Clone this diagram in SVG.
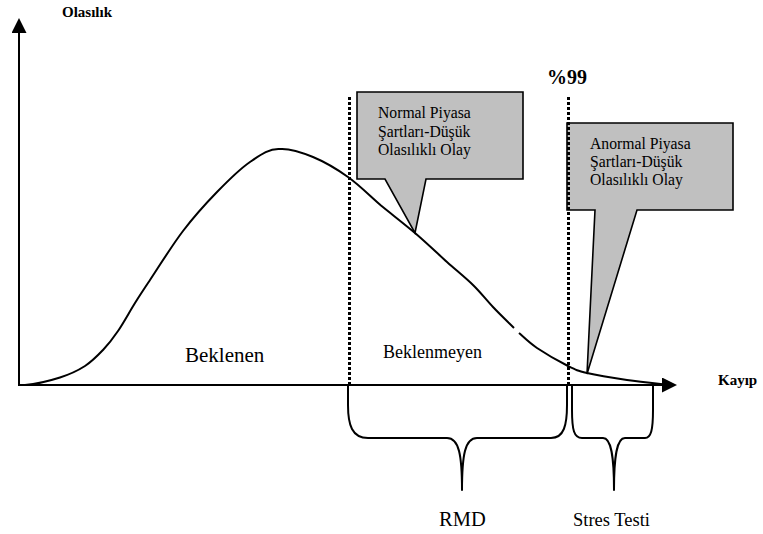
<svg xmlns="http://www.w3.org/2000/svg" width="763" height="534" viewBox="0 0 763 534">
  <style>
    .serif { font-family: "Liberation Serif", "Times New Roman", serif; fill: #000; }
    .bold { font-weight: bold; }
    .callout { fill: #c0c0c0; stroke: #000; stroke-width: 1.6; stroke-linejoin: miter; }
    .line { fill: none; stroke: #000; stroke-width: 2; }
    .limit { fill: none; stroke: #000; stroke-width: 3; stroke-dasharray: 3 2; }
    .brace { fill: none; stroke: #000; stroke-width: 2; stroke-linejoin: round; }
  </style>
  <defs>
    <marker id="arrow" markerUnits="userSpaceOnUse" markerWidth="15" markerHeight="15" refX="0" refY="7.5" orient="auto">
      <path d="M0,0 L15,7.5 L0,15 Z" fill="#000"/>
    </marker>
  </defs>
  <rect width="763" height="534" fill="#fff"/>

  <!-- call-out boxes -->
  <g id="callout-normal">
    <path class="callout" d="M357,92 H523 V179 H426 L415,233 L385,179 H357 Z"/>
    <text class="serif" font-size="15.7" x="378" y="118.3">Normal Piyasa</text>
    <text class="serif" font-size="15.7" x="378" y="136.7">Şartları-Düşük</text>
    <text class="serif" font-size="15.7" x="378" y="155">Olasılıklı Olay</text>
  </g>
  <g id="callout-abnormal">
    <path class="callout" d="M567,123 H733 V210 H637 L587,374 L595,210 H567 Z"/>
    <text class="serif" font-size="15.7" x="590" y="148.5">Anormal Piyasa</text>
    <text class="serif" font-size="15.7" x="590" y="167">Şartları-Düşük</text>
    <text class="serif" font-size="15.7" x="590" y="185.3">Olasılıklı Olay</text>
  </g>

  <!-- loss distribution curve (two pieces, small break on the tail) -->
  <g id="curve">
    <path class="line" d="M25,385 C37,384 50,380.7 60,377.5 C70,374.3 77.8,370.6 85,366 C92.2,361.4 97.5,355.8 103,350 C108.5,344.2 112.7,338.8 118,331 C123.3,323.2 129.7,311.5 135,303 C140.3,294.5 142,292 150,280 C158,268 171.8,245.7 183,231 C194.2,216.3 205.8,203.5 217,192 C228.2,180.5 239.5,169.2 250,162 C260.5,154.8 269.5,148.2 280,149 C290.5,148.2 301.7,152.3 313,157 C324.3,161.7 336.8,169 348,177 C359.2,185 369.5,195.5 381,205.5 C392,214.5 403.8,223.5 415,233 C426.2,242.5 437.3,253.3 447,262 C456.7,270.7 465.3,277.5 473,285 C480.7,292.5 486.2,299.8 493,307 C499.8,314.2 509.7,323.7 514,328"/>
    <path class="line" d="M519,333 C522.8,336.3 528.8,342.5 537,348 C545.2,353.5 559.7,361.8 568,366 C576.3,370.2 577.2,370.7 587,373 C596.8,375.3 614,378.1 627,380 C640,381.9 658.7,383.8 665,384.5"/>
  </g>

  <!-- confidence limits -->
  <g id="limits">
    <line class="limit" x1="349.5" y1="97" x2="349.5" y2="385"/>
    <line class="limit" x1="568.5" y1="97" x2="568.5" y2="385"/>
    <text class="serif bold" font-size="20" x="547" y="84">%99</text>
  </g>

  <!-- axes -->
  <g id="connectors">
    <line class="line" x1="19" y1="386" x2="19" y2="33" marker-end="url(#arrow)"/>
    <line class="line" x1="18" y1="385" x2="662" y2="385" marker-end="url(#arrow)"/>
  </g>
  <g id="axis-labels">
    <text class="serif bold" font-size="15" x="62" y="17">Olasılık</text>
    <text class="serif bold" font-size="15" x="718" y="385">Kayıp</text>
  </g>

  <!-- region labels -->
  <g id="regions">
    <text class="serif" font-size="21" x="185" y="362">Beklenen</text>
    <text class="serif" font-size="18" x="383" y="357.5">Beklenmeyen</text>
  </g>

  <!-- braces -->
  <g id="brace-rmd">
    <path class="brace" d="M348,385 V405 C348,425 352,438 368,438 H447 C459,438 462,455 462,490 C462,455 465,438 477,438 H551 C564,438 567,425 567,405 V385"/>
    <text class="serif" font-size="20.5" x="439" y="526">RMD</text>
  </g>
  <g id="brace-stress">
    <path class="brace" d="M572,385 V410 C572,430 574,438 582,438 H603 C611,438 614,455 614,490 C614,455 617,438 625,438 H645 C651,438 653,430 653,410 V385"/>
    <text class="serif" font-size="18.5" x="573" y="526">Stres Testi</text>
  </g>
</svg>
